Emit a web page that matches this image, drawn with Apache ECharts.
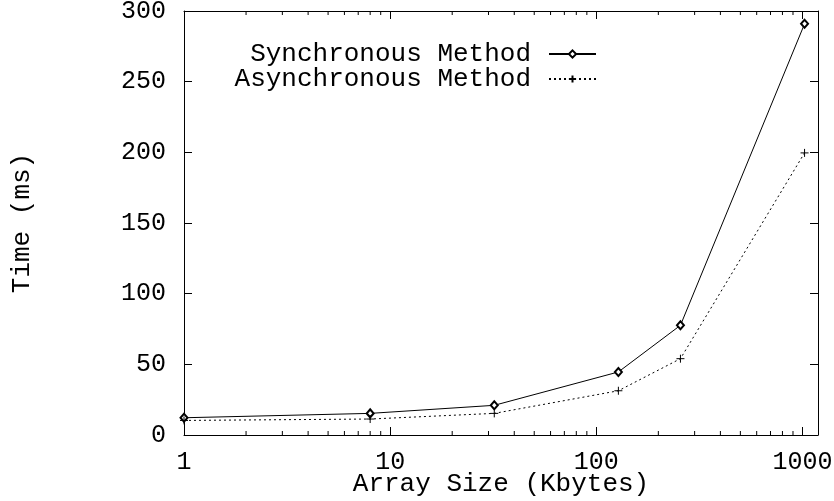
<!DOCTYPE html>
<html><head><meta charset="utf-8">
<script src="https://cdn.jsdelivr.net/npm/echarts@6/dist/echarts.min.js"></script>
<style>html,body{margin:0;padding:0;background:#fff}#c{width:834px;height:501px}</style>
</head><body><div id="c"></div>
<script>
const arraySizes = [1, 8, 32, 128, 256, 1024];
const syncTimes = [12.2, 15.3, 21.0, 44.6, 77.6, 290.9];
const asyncTimes = [10.3, 11.3, 15.3, 31.3, 54.0, 199.6];
const xMin = 1, xMax = 1190;
const yMin = 0, yMax = 300, yStep = 50;
const minorXTicks = [2,3,4,5,6,7,8,9,20,30,40,50,60,70,80,90,200,300,400,500,600,700,800,900];
const seriesNames = ['Synchronous Method', 'Asynchronous Method'];
const xTitle = 'Array Size (Kbytes)';
const yTitle = 'Time (ms)';

const FONT = 'Liberation Mono';
const BLACK = '#000';
const chart = echarts.init(document.getElementById('c'), null, {renderer: 'canvas'});

function isPow10(v) {
  const l = Math.log10(v);
  return Math.abs(l - Math.round(l)) < 1e-6;
}
const axisLineStyle = {show: true, onZero: false, lineStyle: {color: BLACK, width: 1}};
const tickStyle = {show: true, inside: true, length: 8, lineStyle: {color: BLACK, width: 1}};
const labelStyle = {fontFamily: FONT, fontSize: 25, color: BLACK};

const legendCommon = {
  orient: 'horizontal', align: 'right', right: 237, padding: 0,
  itemWidth: 47, itemHeight: 9, selectedMode: false,
  textStyle: {fontFamily: FONT, fontSize: 26, color: BLACK, lineHeight: 26, padding: [0, 13, 0, 0]}
};

chart.setOption({
  animation: false,
  backgroundColor: '#fff',
  grid: {left: 184, right: 16, top: 11, bottom: 66, containLabel: false, outerBoundsMode: 'none'},
  legend: [
    Object.assign({}, legendCommon, {data: [seriesNames[0]], top: 41}),
    Object.assign({}, legendCommon, {data: [seriesNames[1]], top: 66})
  ],
  xAxis: [
    {
      type: 'log', logBase: 10, min: xMin, max: xMax, position: 'bottom',
      axisLine: axisLineStyle, axisTick: tickStyle,
      axisLabel: Object.assign({margin: 15, formatter: v => isPow10(v) ? String(Math.round(v)) : ''}, labelStyle),
      splitLine: {show: false}, minorTick: {show: false}, minorSplitLine: {show: false},
      name: xTitle, nameLocation: 'middle', nameGap: 36, nameMoveOverlap: false,
      nameTextStyle: {fontFamily: FONT, fontSize: 26, color: BLACK}
    },
    {
      type: 'log', logBase: 10, min: xMin, max: xMax, position: 'top',
      axisLine: axisLineStyle, axisTick: tickStyle,
      axisLabel: {show: false}, splitLine: {show: false}
    }
  ],
  yAxis: [
    {
      type: 'value', min: yMin, max: yMax, interval: yStep, position: 'left',
      axisLine: axisLineStyle, axisTick: tickStyle,
      axisLabel: Object.assign({margin: 18}, labelStyle),
      splitLine: {show: false},
      name: yTitle, nameLocation: 'middle', nameGap: 149, nameRotate: 90, nameMoveOverlap: false,
      nameTextStyle: {fontFamily: FONT, fontSize: 26, color: BLACK}
    },
    {
      type: 'value', min: yMin, max: yMax, interval: yStep, position: 'right',
      axisLine: axisLineStyle, axisTick: tickStyle,
      axisLabel: {show: false}, splitLine: {show: false}
    }
  ],
  series: [
    {
      name: seriesNames[0], type: 'line', xAxisIndex: 0, yAxisIndex: 0,
      data: arraySizes.map((x, i) => [x, syncTimes[i]]),
      symbol: 'emptyDiamond', symbolSize: [7, 8], showAllSymbol: true,
      lineStyle: {color: BLACK, width: 1, type: 'solid'},
      itemStyle: {color: BLACK, borderColor: BLACK, borderWidth: 1},
      emphasis: {disabled: true}, z: 3
    },
    {
      name: seriesNames[1], type: 'line', xAxisIndex: 0, yAxisIndex: 0,
      data: arraySizes.map((x, i) => [x, asyncTimes[i]]),
      symbol: 'path://M0,5L10,5M5,0L5,10', symbolSize: 8, showAllSymbol: true,
      lineStyle: {color: BLACK, width: 1, type: [2, 3]},
      itemStyle: {color: 'none', borderColor: BLACK, borderWidth: 1},
      emphasis: {disabled: true}, z: 3
    },
    {
      name: 'minorTicks', type: 'custom', xAxisIndex: 0, yAxisIndex: 0,
      data: minorXTicks.map(v => [v, yMin]),
      silent: true, clip: false,
      renderItem: function (params, api) {
        const b = api.coord([api.value(0), yMin]);
        const t = api.coord([api.value(0), yMax]);
        const st = {stroke: BLACK, lineWidth: 1};
        return {type: 'group', children: [
          {type: 'line', shape: {x1: b[0], y1: b[1], x2: b[0], y2: b[1] - 4}, style: st},
          {type: 'line', shape: {x1: t[0], y1: t[1], x2: t[0], y2: t[1] + 4}, style: st}
        ]};
      }
    }
  ]
});
</script>
</body></html>
